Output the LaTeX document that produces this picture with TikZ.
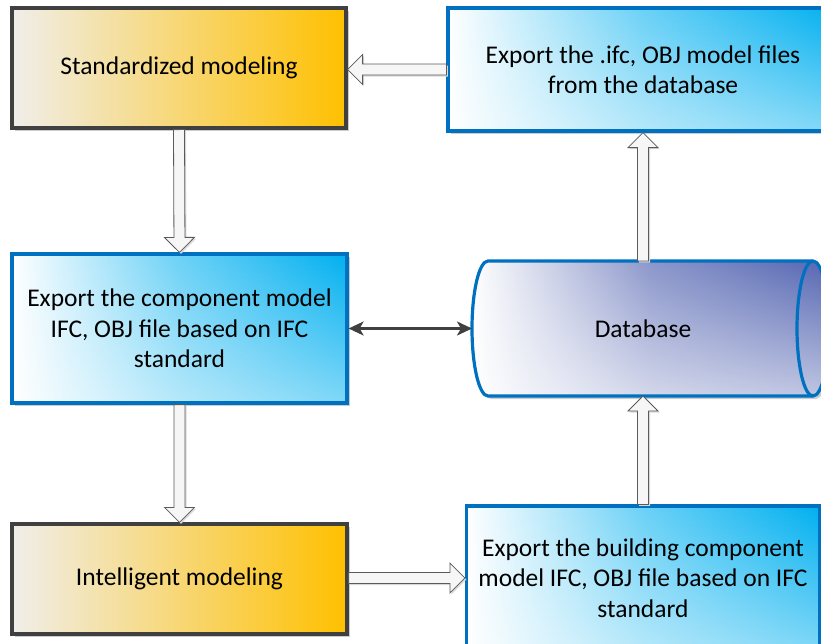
\documentclass[tikz,border=0pt]{standalone}
\usepackage{fontspec}
\setmainfont{Carlito}
\usetikzlibrary{calc,arrows.meta,shadows,fadings}
\definecolor{boxblue}{HTML}{0070C0}
\definecolor{cyanfill}{HTML}{00B0F0}
\definecolor{amber}{HTML}{FFC000}
\definecolor{cream}{HTML}{F0EEEA}
\definecolor{darkedge}{HTML}{404040}
\definecolor{dbblue}{HTML}{5566B2}
\definecolor{arrowedge}{HTML}{5A5A5A}
\definecolor{arrowfill}{HTML}{F6F6F6}
\tikzfading[name=fadeup, top color=transparent!100, bottom color=transparent!0]
\tikzset{
  boxshadow/.style={drop shadow={shadow xshift=3pt,shadow yshift=-3pt,fill=black!20,opacity=1}},
  ybox/.style={boxshadow,draw=darkedge,line width=3.2pt,left color=cream,right color=amber},
  whitefade/.style={path picture={\fill[white,path fading=fadeup,fill opacity=#1]
    (path picture bounding box.south west) rectangle (path picture bounding box.north east);}},
  bbox/.style={boxshadow,draw=boxblue,line width=3.2pt,left color=white,right color=cyanfill,
    middle color=cyanfill!58!white,whitefade=0.5},
  dbshape/.style={boxshadow,draw=boxblue,line width=3.2pt,left color=white,right color=dbblue,
    middle color=dbblue!68!white,whitefade=0.62},
  blockarr/.style={draw=arrowedge,line width=0.8pt,fill=arrowfill,line join=miter,
    drop shadow={shadow xshift=1.5pt,shadow yshift=-1.5pt,fill=black!15,opacity=1}},
  dblarr/.style={draw=darkedge,line width=2.2pt,
    {Stealth[length=15pt,width=14pt,inset=4pt]}-{Stealth[length=15pt,width=14pt,inset=4pt]}},
  txt/.style={font=\fontsize{25.5}{30.5}\selectfont,align=center,text=black}
}
\newcommand\blockarrow[2]{%
  \coordinate (bh) at ($(#2)!15pt!(#1)$);
  \draw[blockarr] ($(#1)!5.5pt!90:(#2)$) -- ($(bh)!5.5pt!90:(#2)$) -- ($(bh)!15pt!90:(#2)$)
    -- (#2) -- ($(bh)!15pt!-90:(#2)$) -- ($(bh)!5.5pt!-90:(#2)$) -- ($(#1)!5.5pt!-90:(#2)$) -- cycle;}
\begin{document}
\begin{tikzpicture}[x=1pt,y=-1pt]
\useasboundingbox (0,0) rectangle (821,643);
\clip (0,0) rectangle (821,643);
% boxes
\node[ybox,txt,minimum width=334pt,minimum height=120pt] (std) at (179,68) {Standardized modeling};
\node[bbox,txt,minimum width=390pt,minimum height=123pt] (exp) at (643,69.5) {Export the .ifc, OBJ model files\\from the database};
\node[bbox,txt,minimum width=335pt,minimum height=149pt] (comp) at (179.5,328.5) {Export the component model\\IFC, OBJ file based on IFC\\standard};
\node[ybox,txt,minimum width=335pt,minimum height=110pt] (intel) at (179.5,579) {Intelligent modeling};
\node[bbox,txt,minimum width=353pt,minimum height=144pt] (build) at (643,578) {Export the building component\\model IFC, OBJ file based on IFC\\standard};
% database cylinder
\draw[dbshape] (813,261) -- (488,261) arc[start angle=270,end angle=90,x radius=16,y radius=67.5]
  -- (813,396) arc[start angle=90,end angle=-90,x radius=16,y radius=67.5] -- cycle;
\draw[draw=boxblue,line width=3.2pt] (813,396) arc[start angle=90,end angle=270,x radius=16,y radius=67.5];
\node[txt] (db) at (643,328.5) {Database};
\coordinate (dbtop) at (643,261);
\coordinate (dbbot) at (643,396);
\coordinate (dbleft) at (472,328.5);
% connectors
\blockarrow{std.south}{comp.north}
\blockarrow{comp.south}{intel.north}
\coordinate (ib) at (intel.east |- build.west);
\blockarrow{ib}{build.west}
\blockarrow{build.north}{dbbot}
\blockarrow{dbtop}{exp.south}
\coordinate (es) at (std.east |- exp.west);
\blockarrow{exp.west}{es}
\draw[dblarr] (comp.east) -- (dbleft);
\end{tikzpicture}
\end{document}
